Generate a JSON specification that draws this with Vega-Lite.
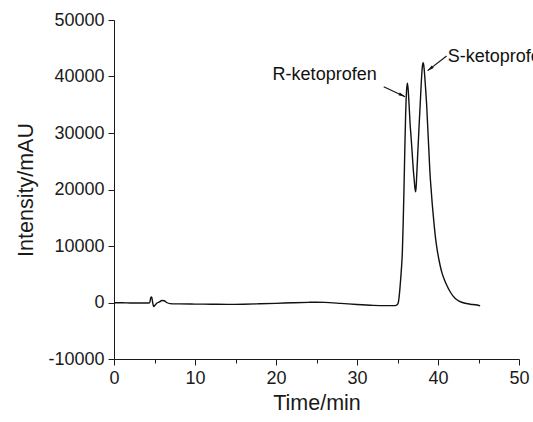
{
  "$schema": "https://vega.github.io/schema/vega-lite/v6.json",
  "autosize": "none",
  "width": 405,
  "height": 339,
  "padding": {"left": 114, "top": 20, "right": 14, "bottom": 63},
  "background": "white",
  "config": {
    "view": {"stroke": null},
    "font": "Liberation Sans",
    "axis": {"grid": false, "domainColor": "#1a1a1a", "tickColor": "#1a1a1a", "labelColor": "#1a1a1a", "titleColor": "#1a1a1a", "labelFont": "Liberation Sans", "titleFont": "Liberation Sans", "labelFontSize": 18, "titleFontSize": 21.5, "titleFontWeight": "normal", "domainWidth": 1, "tickWidth": 1}
  },
  "datasets": {
    "trace": [
      {"t": 0, "v": -50}, {"t": 1, "v": -50}, {"t": 2, "v": -80}, {"t": 3, "v": -80}, {"t": 4, "v": -80},
      {"t": 4.4, "v": -50}, {"t": 4.55, "v": 900}, {"t": 4.65, "v": 1000}, {"t": 4.75, "v": 200}, {"t": 4.9, "v": -700},
      {"t": 5.05, "v": -500}, {"t": 5.3, "v": -100}, {"t": 5.6, "v": 100}, {"t": 5.9, "v": 350}, {"t": 6.2, "v": 300},
      {"t": 6.5, "v": 0}, {"t": 6.9, "v": -200}, {"t": 8, "v": -250}, {"t": 10, "v": -280}, {"t": 12, "v": -300},
      {"t": 14, "v": -330}, {"t": 16, "v": -300}, {"t": 18, "v": -230}, {"t": 20, "v": -150}, {"t": 22, "v": -50},
      {"t": 24, "v": 30}, {"t": 25, "v": 50}, {"t": 26, "v": 20}, {"t": 28, "v": -150}, {"t": 30, "v": -350},
      {"t": 32, "v": -500}, {"t": 33.5, "v": -550}, {"t": 34.7, "v": -550}, {"t": 34.95, "v": -400},
      {"t": 35.1, "v": 0}, {"t": 35.2, "v": 1000}, {"t": 35.3, "v": 2500}, {"t": 35.4, "v": 4300}, {"t": 35.5, "v": 6300},
      {"t": 35.6, "v": 9000}, {"t": 35.7, "v": 14000}, {"t": 35.8, "v": 20000}, {"t": 35.9, "v": 27000}, {"t": 36.0, "v": 33000},
      {"t": 36.1, "v": 37000}, {"t": 36.2, "v": 38800}, {"t": 36.3, "v": 38000}, {"t": 36.4, "v": 35800}, {"t": 36.54, "v": 32000},
      {"t": 36.7, "v": 28800}, {"t": 36.83, "v": 26100}, {"t": 36.95, "v": 23500}, {"t": 37.05, "v": 21900}, {"t": 37.15, "v": 20300},
      {"t": 37.25, "v": 19600}, {"t": 37.35, "v": 21800}, {"t": 37.49, "v": 26100}, {"t": 37.6, "v": 29300}, {"t": 37.69, "v": 32000},
      {"t": 37.8, "v": 35000}, {"t": 37.9, "v": 37900}, {"t": 38.0, "v": 40500}, {"t": 38.1, "v": 42100}, {"t": 38.16, "v": 42440},
      {"t": 38.22, "v": 42200}, {"t": 38.3, "v": 41200}, {"t": 38.4, "v": 39300}, {"t": 38.5, "v": 37200}, {"t": 38.6, "v": 34950},
      {"t": 38.7, "v": 32000}, {"t": 38.8, "v": 29060}, {"t": 38.9, "v": 26100}, {"t": 39.0, "v": 23150}, {"t": 39.1, "v": 21000},
      {"t": 39.3, "v": 17260}, {"t": 39.5, "v": 14100}, {"t": 39.7, "v": 11360}, {"t": 39.9, "v": 9300}, {"t": 40.1, "v": 7700},
      {"t": 40.25, "v": 6640}, {"t": 40.5, "v": 5200}, {"t": 40.8, "v": 4000}, {"t": 41.07, "v": 3100}, {"t": 41.5, "v": 1900},
      {"t": 42.1, "v": 740}, {"t": 42.6, "v": 250}, {"t": 43.33, "v": -140}, {"t": 44.0, "v": -300}, {"t": 44.8, "v": -440},
      {"t": 45.2, "v": -600}
    ],
    "labelR": [{"t": 32.43, "v": 40265, "label": "R-ketoprofen"}],
    "labelS": [{"t": 41.2, "v": 43500, "label": "S-ketoprofen"}],
    "arrows": [
      {"t": 33.3, "v": 38200, "t2": 35.93, "v2": 36425, "ht": 35.59, "hv": 36660, "angle": 115},
      {"t": 41.06, "v": 43630, "t2": 38.73, "v2": 41030, "ht": 39.01, "hv": 41345, "angle": 232}
    ]
  },
  "layer": [
    {
      "data": {"name": "trace"},
      "mark": {"type": "line", "color": "#111", "strokeWidth": 1.4, "interpolate": "monotone"},
      "encoding": {
        "x": {"field": "t", "type": "quantitative", "scale": {"domain": [0, 50], "nice": false, "zero": false},
          "axis": {"title": "Time/min", "values": [0, 5, 10, 15, 20, 25, 30, 35, 40, 45, 50], "format": "d",
            "labelExpr": "datum.value % 10 === 0 ? datum.label : ''",
            "tickSize": {"condition": {"test": "datum.value % 10 === 0", "value": 6}, "value": 4},
            "labelPadding": 4, "titlePadding": 5, "labelFlush": false, "labelOverlap": false}},
        "y": {"field": "v", "type": "quantitative", "scale": {"domain": [-10000, 50000], "nice": false, "zero": false},
          "axis": {"title": "Intensity/mAU", "values": [-10000, -5000, 0, 5000, 10000, 15000, 20000, 25000, 30000, 35000, 40000, 45000, 50000], "format": "d",
            "labelExpr": "datum.value % 10000 === 0 ? replace(datum.label, '\u2212', '-') : ''",
            "tickSize": {"condition": {"test": "datum.value % 10000 === 0", "value": 6}, "value": 4},
            "labelPadding": 4, "titlePadding": 10, "labelFlush": false, "labelOverlap": false}}
      }
    },
    {
      "data": {"name": "labelR"},
      "mark": {"type": "text", "fontSize": 18, "color": "#111", "baseline": "middle", "align": "right", "clip": false, "font": "Liberation Sans"},
      "encoding": {
        "x": {"field": "t", "type": "quantitative"},
        "y": {"field": "v", "type": "quantitative"},
        "text": {"field": "label"}
      }
    },
    {
      "data": {"name": "labelS"},
      "mark": {"type": "text", "fontSize": 18, "color": "#111", "baseline": "middle", "align": "left", "clip": false, "font": "Liberation Sans"},
      "encoding": {
        "x": {"field": "t", "type": "quantitative"},
        "y": {"field": "v", "type": "quantitative"},
        "text": {"field": "label"}
      }
    },
    {
      "data": {"name": "arrows"},
      "mark": {"type": "rule", "color": "#111", "strokeWidth": 1.1},
      "encoding": {
        "x": {"field": "t", "type": "quantitative"},
        "y": {"field": "v", "type": "quantitative"},
        "x2": {"field": "t2"},
        "y2": {"field": "v2"}
      }
    },
    {
      "data": {"name": "arrows"},
      "mark": {"type": "point", "shape": "M0,-1L0.45,1L-0.45,1Z", "filled": true, "color": "#111", "size": 50, "opacity": 1},
      "encoding": {
        "x": {"field": "ht", "type": "quantitative"},
        "y": {"field": "hv", "type": "quantitative"},
        "angle": {"field": "angle", "type": "quantitative", "scale": null}
      }
    }
  ]
}
